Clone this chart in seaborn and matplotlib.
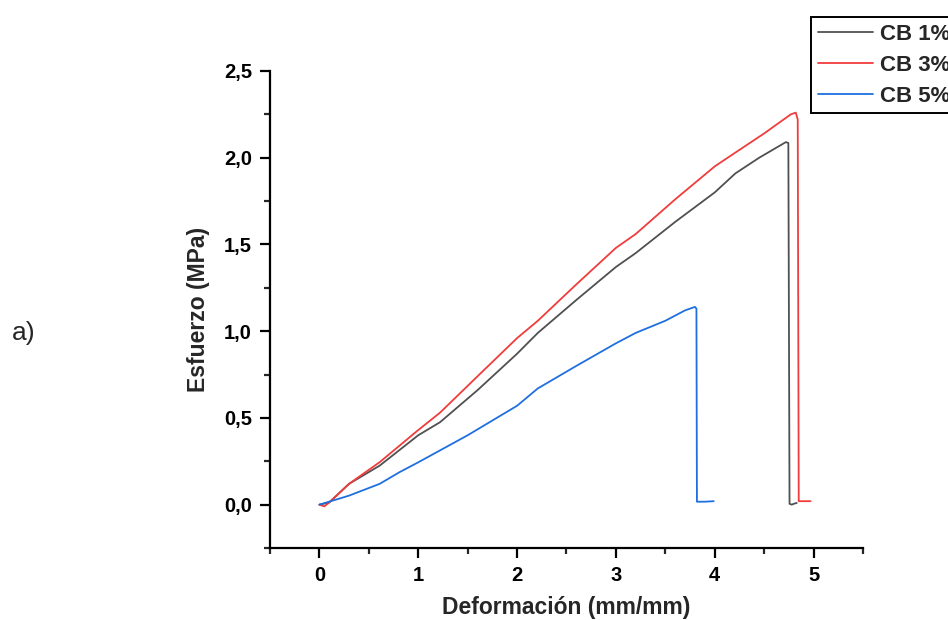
import pandas as pd
import seaborn as sns
import matplotlib.pyplot as plt
from matplotlib.ticker import FuncFormatter, MultipleLocator

# valores
cb1_x = [0.0, 0.1, 0.3, 0.61, 1.0, 1.22, 1.6, 2.0, 2.21, 2.6, 3.0, 3.2, 3.6, 4.0, 4.21, 4.45, 4.6, 4.72, 4.745, 4.757, 4.78, 4.8, 4.83]
cb1_y = [0.0, 0.013, 0.12, 0.225, 0.40, 0.475, 0.66, 0.87, 0.99, 1.18, 1.37, 1.45, 1.63, 1.80, 1.91, 2.0, 2.05, 2.09, 2.085, 0.005, 0.0, 0.005, 0.01]

cb3_x = [0.0, 0.05, 0.1, 0.3, 0.61, 1.0, 1.22, 1.6, 2.0, 2.21, 2.6, 3.0, 3.2, 3.6, 4.0, 4.21, 4.5, 4.77, 4.82, 4.84, 4.85, 4.9, 4.97]
cb3_y = [0.0, -0.01, 0.013, 0.12, 0.245, 0.43, 0.53, 0.74, 0.96, 1.06, 1.27, 1.48, 1.56, 1.76, 1.95, 2.03, 2.14, 2.25, 2.26, 2.22, 0.02, 0.02, 0.02]

cb5_x = [0.0, 0.3, 0.61, 0.81, 1.0, 1.5, 2.0, 2.21, 2.6, 3.0, 3.2, 3.5, 3.7, 3.8, 3.815, 3.82, 3.9, 3.99]
cb5_y = [0.0, 0.052, 0.12, 0.187, 0.244, 0.40, 0.57, 0.67, 0.80, 0.93, 0.99, 1.06, 1.12, 1.14, 1.13, 0.017, 0.017, 0.02]

series = ["CB 1%", "CB 3%", "CB 5%"]
colores = ["#505050", "#f03c3c", "#1f6fe0"]


def build_frame():
    parts = []
    for name, xs, ys in zip(series, [cb1_x, cb3_x, cb5_x], [cb1_y, cb3_y, cb5_y]):
        parts.append(pd.DataFrame({"x": xs, "y": ys, "serie": name}))
    return pd.concat(parts, ignore_index=True)


def comma(v, pos):
    return f"{v:.1f}".replace(".", ",")


def main():
    sns.set_style("ticks")
    plt.rcParams["font.family"] = ["Liberation Sans", "DejaVu Sans"]

    df = build_frame()
    fig = plt.figure(figsize=(9.48, 6.2), dpi=100)
    ax = fig.add_axes([0.2848, 0.1161, 0.6255, 0.7694])

    sns.lineplot(data=df, x="x", y="y", hue="serie", palette=colores,
                 estimator=None, sort=False, linewidth=1.3, ax=ax)

    ax.set_xlim(-0.5, 5.5)
    ax.set_ylim(-0.25, 2.5)
    ax.xaxis.set_major_locator(MultipleLocator(1))
    ax.xaxis.set_minor_locator(MultipleLocator(0.5))
    ax.yaxis.set_major_locator(MultipleLocator(0.5))
    ax.yaxis.set_minor_locator(MultipleLocator(0.25))
    ax.yaxis.set_major_formatter(FuncFormatter(comma))
    ax.xaxis.set_major_formatter(FuncFormatter(lambda v, p: f"{v:.0f}"))

    for s in ["top", "right"]:
        ax.spines[s].set_visible(False)
    for s in ["left", "bottom"]:
        ax.spines[s].set_linewidth(1.6)
        ax.spines[s].set_color("black")
    ax.tick_params(which="major", direction="out", length=7, width=1.6,
                   labelsize=14.5, colors="black", pad=6)
    ax.tick_params(which="minor", direction="out", length=4, width=1.6)
    for lab in ax.get_xticklabels() + ax.get_yticklabels():
        lab.set_fontweight("bold")

    ax.set_xlabel("Deformación (mm/mm)", fontsize=16.5, fontweight="bold", labelpad=8)
    ax.set_ylabel("Esfuerzo (MPa)", fontsize=16.5, fontweight="bold", labelpad=10)

    # la leyenda queda cortada en el borde derecho, como en el original
    handles, labels = ax.get_legend_handles_labels()
    leg = ax.legend(handles, labels, loc="upper left",
                    bbox_to_anchor=(0.8555, 0.9726), bbox_transform=fig.transFigure,
                    fancybox=False, edgecolor="black", framealpha=1,
                    handlelength=2.5, handletextpad=0.3, labelspacing=0.45,
                    borderpad=0.3, borderaxespad=0,
                    prop={"family": "Liberation Sans", "weight": "bold", "size": 16})
    leg.get_frame().set_linewidth(1.4)
    for line in leg.get_lines():
        line.set_linewidth(1.3)

    fig.text(0.012, 0.452, "a)", fontsize=19)

    fig.savefig("out.png", dpi=100)


if __name__ == "__main__":
    main()
